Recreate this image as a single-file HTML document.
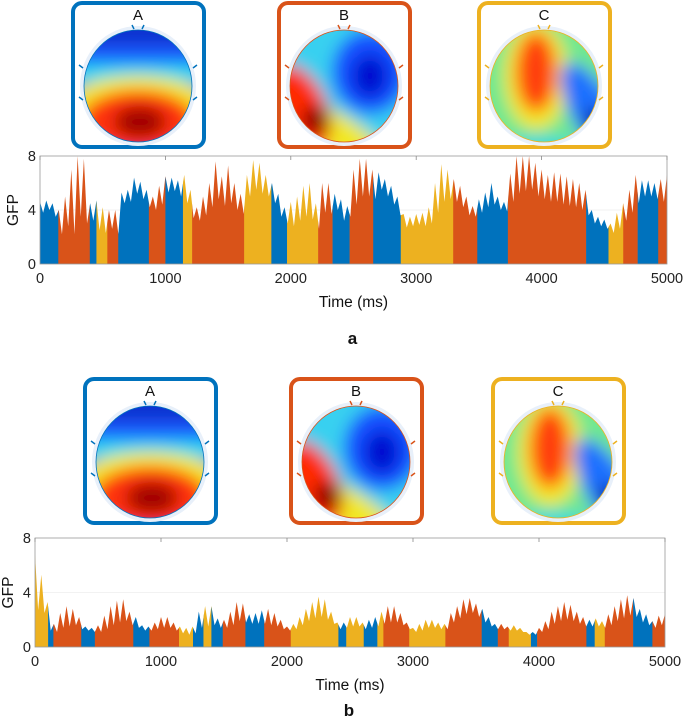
<!DOCTYPE html>
<html><head><meta charset="utf-8">
<style>
html,body{margin:0;padding:0;background:#fff;}
svg{display:block;font-family:"Liberation Sans",Arial,sans-serif;}
</style></head>
<body>
<svg id="fig" width="685" height="718" viewBox="0 0 685 718" xmlns="http://www.w3.org/2000/svg">
<defs>
  <filter id="blur" x="-50%" y="-50%" width="200%" height="200%"><feGaussianBlur stdDeviation="8"/></filter>
  <clipPath id="headclip"><ellipse cx="0" cy="0" rx="54" ry="56"/></clipPath>
  <g id="mapA">
    <g clip-path="url(#headclip)"><g filter="url(#blur)">
      <rect x="-90" y="-90" width="180" height="180" fill="#1a5cff"/>
      <rect x="-90" y="-80" width="180" height="40" fill="#0a30d0"/>
      <rect x="-90" y="-22" width="180" height="18" fill="#28d8f0"/>
      <ellipse cx="0" cy="26" rx="80" ry="36" fill="#f4ea1c"/>
      <ellipse cx="0" cy="36" rx="58" ry="32" fill="#ff3008"/>
      <ellipse cx="2" cy="36" rx="26" ry="16" fill="#a00000"/>
    </g></g>
  </g>
  <g id="mapB">
    <g clip-path="url(#headclip)"><g filter="url(#blur)">
      <rect x="-90" y="-90" width="180" height="180" fill="#38d0f0"/>
      <ellipse cx="26" cy="-14" rx="38" ry="42" fill="#1450ff"/>
      <ellipse cx="26" cy="-10" rx="18" ry="22" fill="#0010d0"/>
      <ellipse cx="-20" cy="44" rx="70" ry="22" fill="#f2e820" transform="rotate(28 -20 44)"/>
      <ellipse cx="-44" cy="22" rx="26" ry="46" fill="#ff2a00" transform="rotate(-25 -44 22)"/>
      <ellipse cx="-28" cy="34" rx="14" ry="14" fill="#880000"/>
    </g></g>
  </g>
  <g id="mapC">
    <g clip-path="url(#headclip)"><g filter="url(#blur)">
      <rect x="-90" y="-90" width="180" height="180" fill="#70e890"/>
      <ellipse cx="-8" cy="-10" rx="32" ry="54" fill="#f5e820"/>
      <ellipse cx="-8" cy="-14" rx="20" ry="40" fill="#ff4010"/>
      <ellipse cx="52" cy="30" rx="22" ry="60" fill="#1a70ff" transform="rotate(-30 52 30)"/>
      <ellipse cx="56" cy="44" rx="10" ry="24" fill="#000890" transform="rotate(-30 56 44)"/>
      <ellipse cx="-6" cy="64" rx="40" ry="14" fill="#30d8e0"/>
    </g></g>
  </g>
</defs>
<g id="tops"></g>
<g id="chartA"></g>
<g id="chartB"></g>
</svg>
<script>
// ---------- Chart a data ----------
const classLabels = ["A","B","C"];
const segStartA = [0,146,397,450,537,624,868,1000,1140,1213,1628,1845,1970,2218,2333,2469,2657,2877,3295,3487,3731,4355,4533,4651,4766,4930];
const segClassA = [0,1,0,2,1,0,1,0,2,1,2,0,2,1,0,1,0,2,1,0,1,0,2,1,0,1];
const peaksA = [4.6,4.7,4.5,4.0,5,7,8,7.8,4.5,4.7,4.2,4,4,5.3,5.5,6.4,6.1,5.5,5,5.8,6.5,6.4,6.2,6.6,5.5,4.2,5,6,7.6,6.5,7.3,6,5.2,6.6,7.7,7.5,6.6,6,5.2,4.2,4.6,5,5.8,6,4.5,6,6,5.2,4.8,4.3,7,7.8,7.8,7,6.8,6.3,5.8,5,3.7,3.5,3.7,3.8,4.2,6,7.4,7,6.3,5.8,5,4.3,4.8,5.3,6,5,4.6,6.7,8,8,8,7.5,7,6.6,6.8,6.7,6.5,6.3,6,5.5,4,3.5,3.3,3,3.8,4.5,5.5,6.6,6.2,6.2,6,6.3,6.6];
const troughsA = [3.8,4.0,3.5,2.2,2.8,2.2,3.5,3.0,3.2,2.5,2.3,2.6,2.2,4.5,4.6,5.2,4.8,4.2,4.0,4.4,5.3,5.4,5.0,4.5,3.4,3.2,3.6,4.2,4.8,4.3,4.5,4.0,3.7,5.0,5.5,5.2,5.0,4.5,3.5,3.0,2.8,3.2,3.5,3.3,2.6,3.8,3.7,4.0,3.2,3.5,4.4,5.0,5.0,4.8,5.5,5.0,4.4,3.6,2.7,2.8,2.9,2.8,3.0,3.8,4.6,4.8,4.6,4.2,3.6,3.5,3.8,4.2,4.4,4.0,3.9,4.6,5.2,5.4,5.5,5.0,4.8,4.6,4.6,4.4,4.3,4.2,4.0,3.6,3.0,2.8,2.6,2.3,2.6,3.2,3.8,4.5,5.0,5.0,4.8,4.6];
// ---------- Chart b data ----------
const segStartB = [0,104,146,367,475,780,908,1143,1254,1337,1400,1490,1670,1819,2030,2408,2470,2609,2717,2765,2970,3257,3545,3673,3760,3936,3985,4376,4442,4522,4747,4900];
const segClassB = [2,0,1,0,1,0,1,2,0,2,0,1,0,1,2,0,2,0,2,1,2,1,0,1,2,0,1,0,2,1,0,1];
const peaksB = [6.8,5.3,3.3,1.7,2.5,3,2.8,2.2,1.5,1.4,1.6,2.3,3,3.4,3.5,2.6,2.2,1.6,1.5,1.8,2.2,2.2,1.8,1.5,1.4,1.5,2.6,3,3,2.1,2,2.6,3.3,3.2,2.4,2.5,2.7,2.8,2.5,2,1.5,1.7,2.2,2.8,3.3,3.7,3.5,2.6,1.8,1.8,2.2,2.2,1.8,2,2.2,2.6,3,3,2.5,1.8,1.4,1.7,2,2,1.8,1.7,2.5,3,3.5,3.6,3.2,2.8,2.2,1.7,1.7,1.5,1.6,1.4,1.1,1.1,1.4,1.9,2.6,3,3.3,3.1,2.6,2.2,2,2.1,1.9,2.4,3,3.5,3.8,3.6,2.8,2.4,1.9,2.3,2.4];
const troughsB = [2.7,2.5,1.2,1.1,1.4,1.5,1.6,1.3,1.2,1.1,1.1,1.3,1.6,1.8,1.9,1.6,1.4,1.2,1.2,1.3,1.4,1.4,1.2,1.0,0.9,1.0,1.4,1.5,1.6,1.4,1.4,1.6,1.9,1.8,1.7,1.7,1.7,1.6,1.5,1.3,1.2,1.3,1.6,1.9,2.1,2.2,2.0,1.7,1.3,1.4,1.5,1.5,1.3,1.4,1.5,1.7,1.8,1.8,1.6,1.3,1.1,1.2,1.4,1.4,1.3,1.3,1.8,2.1,2.4,2.5,2.2,1.8,1.5,1.3,1.3,1.2,1.2,1.1,0.9,0.9,1.1,1.3,1.7,1.9,2.0,1.9,1.7,1.5,1.5,1.5,1.4,1.6,1.9,2.1,2.3,2.2,1.8,1.6,1.4,1.6];
const xTicks = [0,1000,2000,3000,4000,5000];
const yTicks = [0,4,8];

const NS = "http://www.w3.org/2000/svg";
const colors = ["#0072bd","#d95319","#edb120"];
function mk(tag, attrs, parent){const e=document.createElementNS(NS,tag);for(const k in attrs)e.setAttribute(k,attrs[k]);parent.appendChild(e);return e;}

const tops = document.getElementById('tops');
function panels(y0, xs){
  xs.forEach((bx,i)=>{
    const g = mk('g',{},tops);
    
    
    mk('rect',{x:bx+2,y:y0+2,width:131,height:144,rx:9,fill:'#fff',stroke:colors[i],'stroke-width':4},g);
    const t = mk('text',{x:bx+67,y:y0+19,'font-size':15,'text-anchor':'middle',fill:'#111'},g);
    t.textContent = classLabels[i];
    const cx=bx+67, cy=y0+85;
    mk('ellipse',{cx:cx,cy:cy,rx:58,ry:60,fill:'#e8f0fa'},g);
    [[-4,-57],[4,-57]].forEach(p=>mk('path',{d:`M${cx+p[0]} ${cy+p[1]} l${p[0]>0?2:-2} -4`,stroke:colors[i],'stroke-width':1.5,fill:'none'},g));
    [-1,1].forEach(s=>{[-18,14].forEach(dy=>mk('path',{d:`M${cx+s*55} ${cy+dy} l${s*4} -3`,stroke:colors[i],'stroke-width':1.5,fill:'none'},g));});
    mk('use',{href:'#map'+classLabels[i],transform:`translate(${cx},${cy})`},g);
    mk('ellipse',{cx:cx,cy:cy,rx:54,ry:56,fill:'none',stroke:colors[i],'stroke-width':0.8},g);
  });
}
panels(1,[71,277,477]);
panels(377,[83,289,491]);

function chart(gid, L, R, T, B, segStart, segClass, peaks, troughs, xlabY, letter, letterY){
  const g = document.getElementById(gid);
  const xs = v => L + (v/5000)*(R-L);
  const ys = v => B - (Math.min(v,8)/8)*(B-T);
  const pts = [];
  for(let i=0;i<peaks.length;i++){
    pts.push([i*50, peaks[i]]);
    if(i<troughs.length) pts.push([i*50+25, troughs[i]]);
  }
  let d = `M${xs(0)} ${ys(0)} `;
  pts.forEach(p=>{ d += `L${xs(p[0]).toFixed(2)} ${ys(p[1]).toFixed(2)} `; });
  d += `L${xs(5000)} ${ys(0)} Z`;
  mk('rect',{x:L,y:T,width:R-L,height:B-T,fill:'#fff'},g);
  mk('line',{x1:L,y1:ys(4),x2:R,y2:ys(4),stroke:'#e6e6e6','stroke-width':0.6},g);
  segStart.forEach((s,i)=>{
    const e = i+1<segStart.length ? segStart[i+1] : 5000;
    const cid = gid+'clip'+i;
    const cp = mk('clipPath',{id:cid},g);
    mk('rect',{x:xs(s),y:T-2,width:xs(e)-xs(s)+0.3,height:B-T+4},cp);
    const p = mk('path',{d:d,fill:colors[segClass[i]],'clip-path':`url(#${cid})`},g);
    
    
  });
  mk('rect',{x:L,y:T,width:R-L,height:B-T,fill:'none',stroke:'#9a9a9a','stroke-width':0.8},g);
  xTicks.forEach(v=>{
    mk('line',{x1:xs(v),y1:T,x2:xs(v),y2:T+4,stroke:'#888','stroke-width':0.8},g);
    const t = mk('text',{x:xs(v),y:B+19,'font-size':14.5,'text-anchor':'middle',fill:'#222'},g);
    
    
    t.textContent = v;
  });
  yTicks.forEach(v=>{
    const t = mk('text',{x:L-4,y:ys(v)+5,'font-size':14.5,'text-anchor':'end',fill:'#222'},g);
    
    
    t.textContent = v;
  });
  const yl = mk('text',{x:0,y:0,'font-size':15.5,'text-anchor':'middle',fill:'#111',transform:`translate(${L-22},${(T+B)/2}) rotate(-90)`},g);
  
  
  yl.textContent = 'GFP';
  const xl = mk('text',{x:(L+R)/2,y:xlabY,'font-size':15.5,'text-anchor':'middle',fill:'#111'},g);
  
  
  xl.textContent = 'Time (ms)';
  const lt = mk('text',{x:(L+R)/2-1,y:letterY,'font-size':17,'font-weight':'bold','text-anchor':'middle',fill:'#111'},g);
  
  
  lt.textContent = letter;
}
chart('chartA',40,667,156,264,segStartA,segClassA,peaksA,troughsA,307,'a',344);
chart('chartB',35,665,538,647,segStartB,segClassB,peaksB,troughsB,690,'b',716);
</script>
</body></html>
